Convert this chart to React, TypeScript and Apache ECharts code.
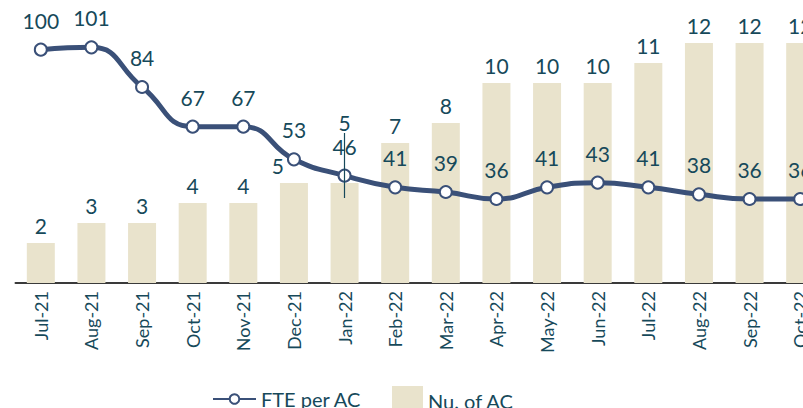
import React, { useEffect, useRef } from "react";
import * as echarts from "echarts";

const categories = [
  "Jul-21", "Aug-21", "Sep-21", "Oct-21", "Nov-21", "Dec-21", "Jan-22", "Feb-22",
  "Mar-22", "Apr-22", "May-22", "Jun-22", "Jul-22", "Aug-22", "Sep-22", "Oct-22",
];
const numAC = [2, 3, 3, 4, 4, 5, 5, 7, 8, 10, 10, 10, 11, 12, 12, 12];
const ftePerAC = [100, 101, 84, 67, 67, 53, 46, 41, 39, 36, 41, 43, 41, 38, 36, 36];
// vertical marker line at Jan-22 (in bar-axis units)
const markerCategory = "Jan-22";
const markerRange = [4.25, 7.5];

const TEXT = "#16495a";
const LINE = "#3a5078";
const BAR = "#e9e3cc";
const FONT = "Lato, 'Open Sans', sans-serif";

export default function App() {
  const ref = useRef<HTMLDivElement>(null);
  useEffect(() => {
    if (!ref.current) return;
    const chart = echarts.init(ref.current, undefined, { renderer: "svg" });
    chart.setOption({
      animation: false,
      textStyle: { fontFamily: FONT },
      grid: { left: 15.5, right: 14.5, top: 3, bottom: 125, containLabel: false },
      legend: [
        {
          data: ["FTE per AC"],
          left: 212,
          top: 389,
          padding: 0,
          itemWidth: 43,
          itemHeight: 12,
          itemGap: 10,
          textStyle: { color: TEXT, fontSize: 20, fontFamily: FONT },
        },
        {
          data: [{ name: "Nu. of AC", icon: "rect" }],
          left: 392,
          top: 386,
          padding: 0,
          itemWidth: 31,
          itemHeight: 30,
          itemGap: 10,
          textStyle: { color: TEXT, fontSize: 20, fontFamily: FONT },
        },
      ],
      xAxis: {
        type: "category",
        data: categories,
        axisLine: { show: true, lineStyle: { color: "#3a3a3a", width: 2 } },
        axisTick: { show: false },
        axisLabel: {
          rotate: 90,
          margin: 8,
          color: TEXT,
          fontSize: 18,
          fontFamily: FONT,
          interval: 0,
        },
      },
      yAxis: [
        { type: "value", min: 0, max: 14, show: false, splitLine: { show: false } },
        { type: "value", min: 0, max: 120, show: false, splitLine: { show: false } },
      ],
      series: [
        {
          name: "Nu. of AC",
          type: "bar",
          yAxisIndex: 0,
          barWidth: 28,
          itemStyle: { color: BAR },
          data: numAC.map((v, i) => {
            const c = categories[i];
            if (c === "Dec-21") {
              return { value: v, label: { offset: [-16, 0] } };
            }
            if (c === "Jan-22") {
              return { value: v, label: { offset: [0, -43] } };
            }
            return v;
          }),
          label: {
            show: true,
            position: "top",
            distance: 7,
            color: TEXT,
            fontSize: 21,
            fontFamily: FONT,
          },
          markLine: {
            silent: true,
            symbol: ["none", "none"],
            label: { show: false },
            lineStyle: { color: TEXT, width: 1.2, type: "solid" },
            data: [
              [
                { coord: [markerCategory, markerRange[0]] },
                { coord: [markerCategory, markerRange[1]] },
              ],
            ],
          },
          z: 2,
        },
        {
          name: "FTE per AC",
          type: "line",
          yAxisIndex: 1,
          data: ftePerAC,
          smooth: 0.5,
          symbol: "circle",
          symbolSize: 12,
          lineStyle: { color: LINE, width: 5 },
          itemStyle: { color: "#ffffff", borderColor: LINE, borderWidth: 2 },
          label: {
            show: true,
            position: "top",
            distance: 12,
            color: TEXT,
            fontSize: 21,
            fontFamily: FONT,
          },
          z: 3,
        },
      ],
    });
    return () => chart.dispose();
  }, []);
  return (
    <div
      style={{
        position: "fixed",
        left: 0,
        top: 0,
        width: 803,
        height: 408,
        overflow: "hidden",
        background: "#ffffff",
      }}
    >
      <div ref={ref} style={{ width: 840, height: 408 }} />
    </div>
  );
}
